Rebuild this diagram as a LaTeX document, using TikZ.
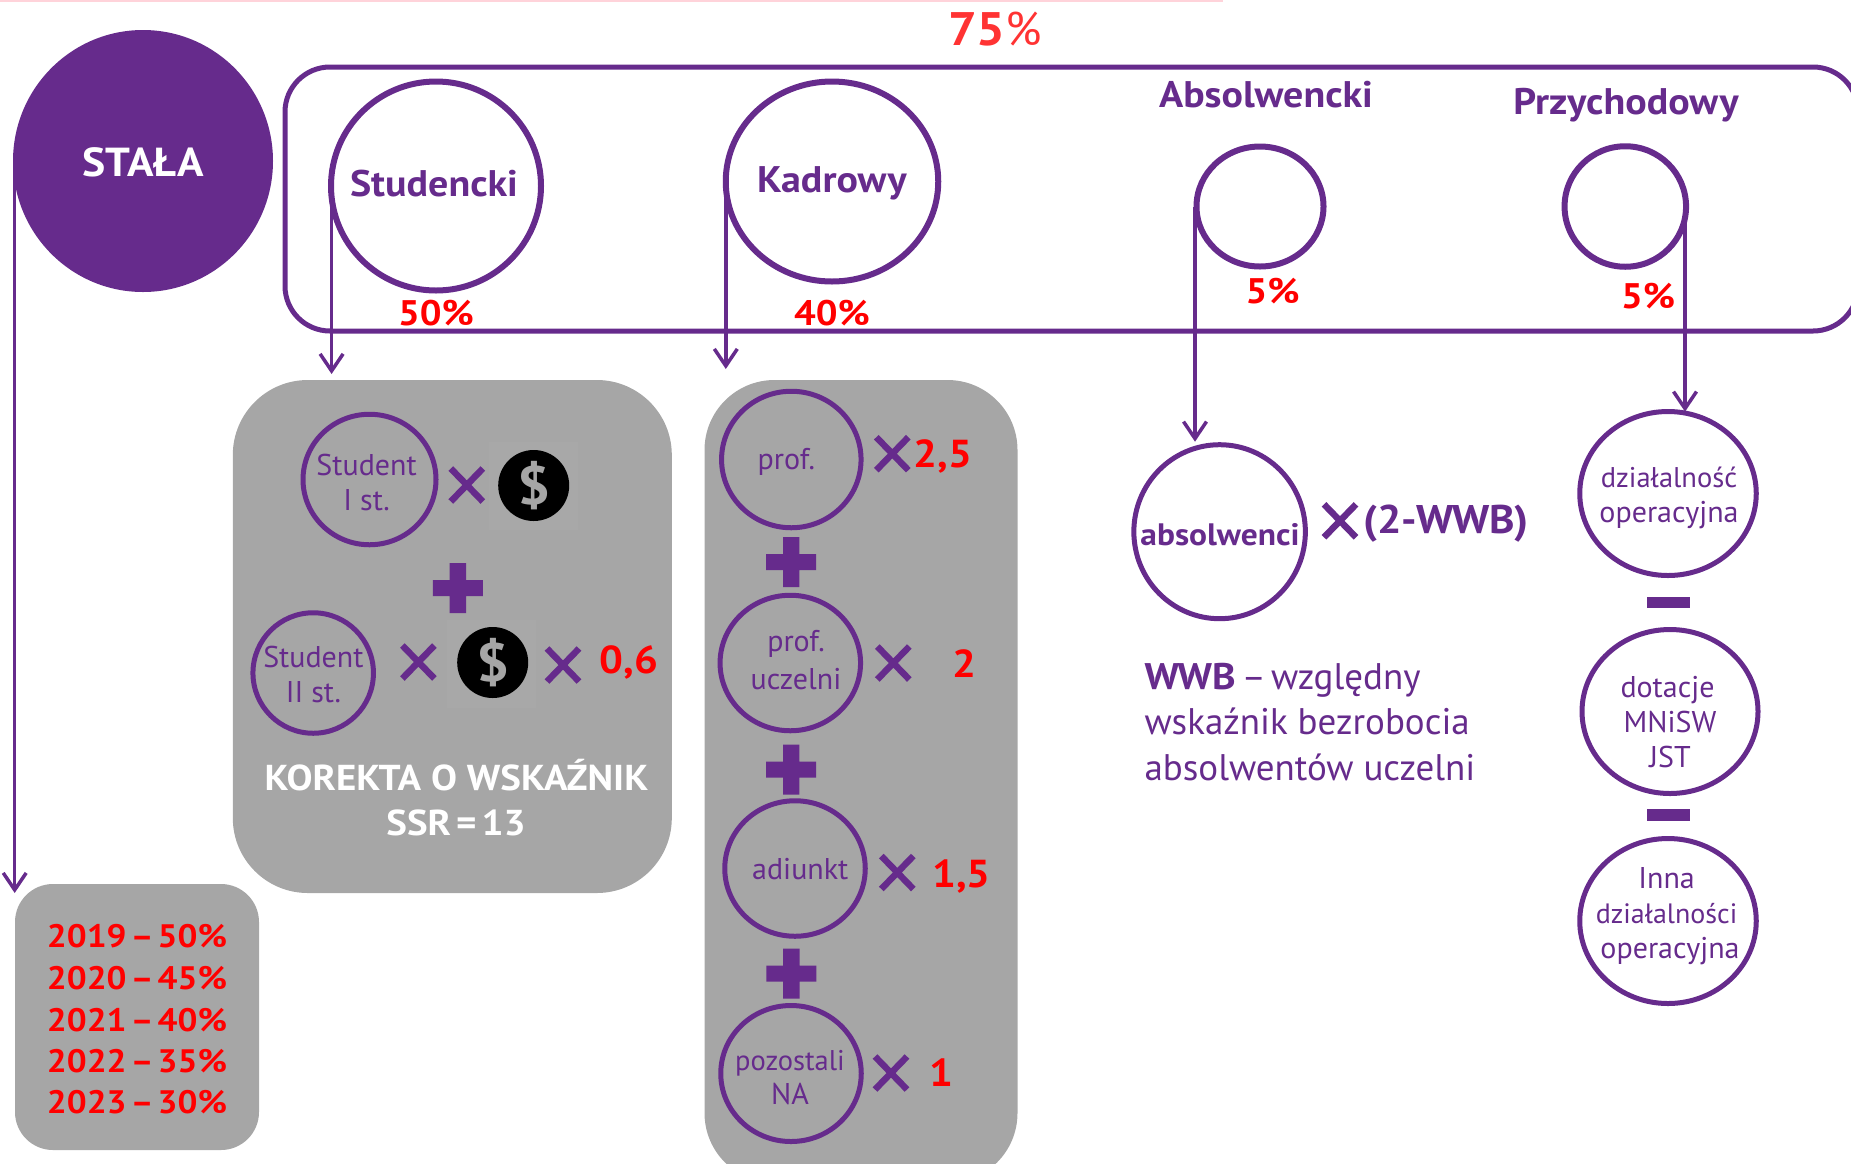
\documentclass[tikz,border=0pt]{standalone}
\usepackage{fontspec}
\setmainfont{PT Sans}[BoldFeatures={FakeStretch=1.08}]
\usetikzlibrary{shapes.geometric,arrows.meta}
\definecolor{pur}{HTML}{662B8C}
\definecolor{gry}{HTML}{A6A6A6}
\definecolor{gry2}{HTML}{A8A8A8}
\definecolor{red1}{HTML}{FF0000}
\definecolor{red2}{HTML}{FF3333}
\definecolor{pink1}{HTML}{FFD3DA}
\newcommand\myfs[1]{\fontsize{#1pt}{#1pt}\selectfont}
\tikzset{
  ring/.style={draw=pur,ellipse,line width=6pt,inner sep=0pt,outer sep=0pt},
  ringthin/.style={draw=pur,ellipse,line width=5pt,inner sep=0pt,outer sep=0pt},
  graybox/.style={fill=gry,rectangle,anchor=north west,inner sep=0pt,outer sep=0pt},
  coin/.style={fill=black,circle,inner sep=0pt,outer sep=0pt,minimum size=71pt},
  halo/.style={fill=gry2,rectangle,inner sep=0pt,outer sep=0pt,minimum width=89pt,minimum height=88pt},
  txt/.style={anchor=base,inner sep=0pt,outer sep=0pt},
  ptxt/.style={txt,text=pur,font=\myfs{30}},
  ptxtb/.style={txt,text=pur,font=\myfs{37}\bfseries},
  rtxt/.style={txt,text=red1,font=\myfs{39}\bfseries},
  wtxt/.style={txt,text=white,font=\myfs{36}\bfseries},
  dollar/.style={anchor=center,inner sep=0pt,text=gry,font=\myfs{54}\bfseries},
  arr/.style={draw=pur,line width=3.5pt,-{Straight Barb[length=17pt,width=23pt,line width=3.5pt]}},
  timesmark/.style={draw=pur,line width=6.5pt},
  barfill/.style={fill=pur,draw=none},
}
\newcommand\timessign[2]{\draw[timesmark] (#1-16,#2-16.5) -- (#1+16,#2+16.5) (#1-16,#2+16.5) -- (#1+16,#2-16.5);}
\newcommand\plussign[2]{\fill[barfill] (#1-8.2,#2-25) rectangle (#1+8.2,#2+25) (#1-25,#2-8) rectangle (#1+25,#2+8);}
\newcommand\yr[2]{#1\hspace{4pt}–\hspace{4pt}#2\%}
\begin{document}
\begin{tikzpicture}[x=1pt,y=-1pt]
\useasboundingbox (0,0) rectangle (1851,1163);
\clip (0,0) rectangle (1851,1163);
\fill[pink1] (0,0) rectangle (1223,1.6);
% grey panels
\node[graybox,rounded corners=38pt,minimum width=244pt,minimum height=266pt] (pStala) at (15,884) {};
\node[graybox,rounded corners=75pt,minimum width=439pt,minimum height=513pt] (pStud) at (232.8,380) {};
\node[graybox,rounded corners=70pt,minimum width=313pt,minimum height=803pt] (pKadr) at (704.5,380) {};
% outer frame
\node[graybox,fill=none,draw=pur,line width=5pt,rounded corners=45pt,minimum width=1573pt,minimum height=264pt] (frame) at (285,67) {};
% top circles
\node[ellipse,fill=pur,inner sep=0pt,outer sep=0pt,minimum width=260pt,minimum height=262pt] (cStala) at (143,161) {};
\node[ring,minimum width=210pt,minimum height=209pt] (cStud) at (436,186) {};
\node[ring,minimum width=212.5pt,minimum height=200pt] (cKadr) at (832,181.5) {};
\node[ring,minimum width=127pt,minimum height=120pt] (cAbs) at (1260,206.5) {};
\node[ring,minimum width=121.5pt,minimum height=120.5pt] (cPrz) at (1625.3,206.5) {};
% lower circles
\node[ringthin,minimum width=133pt,minimum height=130.5pt] (cS1) at (369.5,479.5) {};
\node[ringthin,minimum width=120.5pt,minimum height=120.5pt] (cS2) at (313.2,673) {};
\node[ringthin,minimum width=139.5pt,minimum height=136.5pt] (cProf) at (791.3,459.5) {};
\node[ringthin,minimum width=140.5pt,minimum height=135.5pt] (cUcz) at (790.3,663) {};
\node[ringthin,minimum width=140.5pt,minimum height=135.5pt] (cAdi) at (795,868.5) {};
\node[ringthin,minimum width=140.5pt,minimum height=136pt] (cPoz) at (791,1073.5) {};
\node[ringthin,minimum width=171.5pt,minimum height=174pt] (cAbl) at (1219.6,531.7) {};
\node[ringthin,minimum width=176.5pt,minimum height=164pt] (cDz) at (1668,493.5) {};
\node[ringthin,minimum width=176pt,minimum height=164pt] (cDot) at (1670,711.5) {};
\node[ringthin,minimum width=176.5pt,minimum height=165pt] (cInn) at (1668,921) {};
% arrows
\coordinate (tA) at (14.7,893);
\coordinate (tB) at (331.6,374);
\coordinate (tC) at (725.8,369);
\coordinate (tD) at (1195,441.7);
\coordinate (tE) at (1685,411.7);
\draw[arr] (tA |- cStala.west) -- (tA);
\draw[arr] (tB |- cStud.west) -- (tB);
\draw[arr] (tC |- cKadr.west) -- (tC);
\draw[arr] (tD |- cAbs.west) -- (tD);
\draw[arr] (tE |- cPrz.east) -- (tE);
% coins
\node[halo] (h1) at (533.8,486) {};
\node[halo] (h2) at (491.8,663.5) {};
\node[coin] (coin1) at (533.7,485.5) {};
\node[coin] (coin2) at (492.7,662.5) {};
\node[dollar] (d1) at (coin1) {\$};
\node[dollar] (d2) at (coin2) {\$};
% operators
\timessign{466.8}{485}
\timessign{418.4}{662}
\timessign{563}{665}
\timessign{892.3}{453.7}
\timessign{893.3}{663}
\timessign{897.3}{872.5}
\timessign{891}{1073}
\timessign{1340}{520.8}
\plussign{457.8}{588}
\plussign{791.2}{562}
\plussign{791.2}{769.5}
\plussign{791.3}{973.5}
\fill[barfill] (1647,596.7) rectangle (1689.6,608);
\fill[barfill] (1647,809.3) rectangle (1689.6,821);
% headings
\node[txt,text=red2,font=\myfs{47}] (t75) at (995,45) {\textbf{75}\%};
\node[wtxt,font=\myfs{40.5}\bfseries] (tStala) at (143,176) {STAŁA};
\node[ptxtb] (tStud) at (434,196) {Studencki};
\node[ptxtb] (tKadr) at (832,192) {Kadrowy};
\node[ptxtb] (tAbs) at (1266,107) {Absolwencki};
\node[ptxtb] (tPrz) at (1626,114) {Przychodowy};
\node[rtxt,font=\myfs{35.5}\bfseries] (p50) at (436,325) {50\%};
\node[rtxt,font=\myfs{35.5}\bfseries] (p40) at (832,325) {40\%};
\node[rtxt,font=\myfs{35.5}\bfseries] (p5a) at (1272.5,303) {5\%};
\node[rtxt,font=\myfs{35.5}\bfseries] (p5b) at (1648,308.5) {5\%};
% student panel
\node[ptxt] (l1) at (366.6,475) {Student};
\node[ptxt] (l2) at (366.6,510) {I st.};
\node[ptxt] (l3) at (313.4,667) {Student};
\node[ptxt] (l4) at (313.4,702) {II st.};
\node[rtxt] (n06) at (629,673.5) {0,6};
\node[wtxt] (k1) at (456.5,790.5) {KOREKTA O WSKAŹNIK};
\node[wtxt] (k2) at (456,835.5) {SSR\hspace{5pt}=\hspace{5pt}13};
% staff panel
\node[ptxt] (l5) at (786.3,469) {prof.};
\node[ptxt] (l6) at (796,651.7) {prof.};
\node[ptxt] (l7) at (796,689) {uczelni};
\node[ptxt] (l8) at (800.3,879) {adiunkt};
\node[ptxt,font=\myfs{28.5}] (l9) at (790,1070.7) {pozostali};
\node[ptxt] (l10) at (790,1104) {NA};
\node[rtxt] (n25) at (943,467) {2,5};
\node[rtxt] (n2) at (964,677) {2};
\node[rtxt] (n15) at (961.5,887) {1,5};
\node[rtxt] (n1) at (941,1086) {1};
% years
\node[rtxt,font=\myfs{32.5}\bfseries] (y1) at (137,947) {\yr{2019}{50}};
\node[rtxt,font=\myfs{32.5}\bfseries] (y2) at (137,989) {\yr{2020}{45}};
\node[rtxt,font=\myfs{32.5}\bfseries] (y3) at (137,1031) {\yr{2021}{40}};
\node[rtxt,font=\myfs{32.5}\bfseries] (y4) at (137,1072) {\yr{2022}{35}};
\node[rtxt,font=\myfs{32.5}\bfseries] (y5) at (137,1113) {\yr{2023}{30}};
% absolwenci
\node[ptxtb,font=\myfs{31}\bfseries] (tAbl) at (1220,545) {absolwenci};
\node[ptxtb,font=\myfs{40}\bfseries,anchor=base west] (tFormula) at (1363,533) {(2-WWB)};
\node[txt,anchor=base west,text=pur,font=\myfs{37}] (w1) at (1144.5,689) {\textbf{WWB}\hspace{6pt}–\hspace{5pt}względny};
\node[txt,anchor=base west,text=pur,font=\myfs{37}] (w2) at (1144.5,734) {wskaźnik bezrobocia};
\node[txt,anchor=base west,text=pur,font=\myfs{37}] (w3) at (1144.5,780) {absolwentów uczelni};
% right column
\node[ptxt,font=\myfs{28.5}] (r1) at (1669,487) {działalność};
\node[ptxt] (r2) at (1669,522) {operacyjna};
\node[ptxt] (r3) at (1667.5,697) {dotacje};
\node[ptxt] (r4) at (1670,732.7) {MNiSW};
\node[ptxt] (r5) at (1670,767.7) {JST};
\node[ptxt] (r6) at (1666.6,888) {Inna};
\node[ptxt,font=\myfs{28}] (r7) at (1666.6,923) {działalności};
\node[ptxt] (r8) at (1670,958) {operacyjna};
\end{tikzpicture}
\end{document}
